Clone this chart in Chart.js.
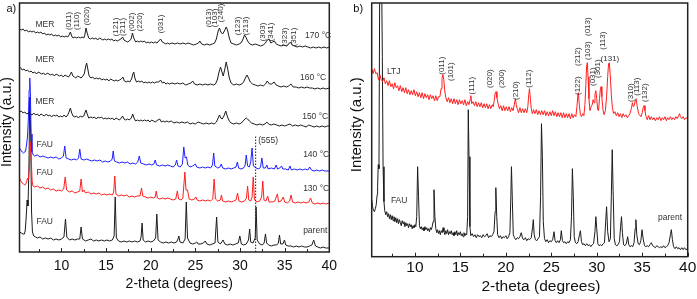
<!DOCTYPE html>
<html>
<head>
<meta charset="utf-8">
<script src="https://cdn.jsdelivr.net/npm/chart.js@4.4.1/dist/chart.umd.min.js"></script>
<style>
  html, body { margin: 0; padding: 0; background: #fff; overflow: hidden; }
  #wrapA { position: absolute; left: 0; top: 0; width: 345px; height: 299px; }
  #wrapB { position: absolute; left: 350px; top: 0; width: 347px; height: 299px; }
</style>
</head>
<body>
<div id="wrapA"><canvas id="chartA"></canvas></div>
<div id="wrapB"><canvas id="chartB"></canvas></div>
<script>
// x axis ticks (2-theta, degrees)
const tickLabels = [10, 15, 20, 25, 30, 35, 40];
const minorTicks = [7.5, 12.5, 17.5, 22.5, 27.5, 32.5, 37.5];

// ---- panel a) patterns, [2-theta, intensity (a.u., stacked)] ----
const parentA = [[5.3,20],[5.5,19],[5.7,18],[5.85,18],[5.95,22],[6.05,35],[6.15,52],[6.25,46],[6.35,80],[6.45,155],[6.55,118],[6.65,40],[6.75,20],[6.9,16],[7.1,15],[7.3,14],[7.6,15],[7.9,13],[8.2,14],[8.5,13],[8.8,14],[9.1,12],[9.4,13],[9.7,12],[10.0,13],[10.28,15],[10.45,33],[10.6,15],[10.9,12],[11.2,13],[11.5,12],[11.8,13],[12.05,13],[12.2,25],[12.35,13],[12.7,11],[13.0,12],[13.3,13],[13.6,11],[13.9,12],[14.2,11],[14.5,12],[14.8,11],[15.1,12],[15.4,11],[15.7,12],[15.9,16],[16.02,55],[16.15,14],[16.4,11],[16.7,10],[17.0,11],[17.3,10],[17.6,11],[17.9,10],[18.2,11],[18.5,10],[18.8,11],[18.92,15],[19.03,29],[19.15,12],[19.4,10],[19.7,11],[20.0,10],[20.3,11],[20.55,14],[20.68,38],[20.82,12],[21.1,10],[21.4,9],[21.7,10],[22.0,9],[22.3,10],[22.6,9],[22.9,10],[23.05,13],[23.15,16],[23.28,10],[23.6,9],[23.85,13],[23.98,50],[24.12,14],[24.4,9],[24.7,8],[25.0,9],[25.15,10],[25.3,8],[25.6,8],[25.9,9],[26.1,11],[26.3,8],[26.6,7],[26.9,8],[27.2,9],[27.38,35],[27.52,10],[27.8,8],[28.1,12],[28.3,8],[28.6,7],[28.9,8],[29.2,7],[29.5,8],[29.8,9],[29.98,16],[30.15,8],[30.4,7],[30.7,8],[30.95,12],[31.08,23],[31.2,10],[31.45,9],[31.7,14],[31.8,45],[31.92,12],[32.2,8],[32.5,7],[32.7,9],[32.85,18],[32.98,9],[33.2,7],[33.5,6],[33.8,7],[34.1,7],[34.3,9],[34.42,17],[34.55,8],[34.8,8],[34.98,12],[35.12,7],[35.4,6],[35.7,6],[36.0,5],[36.3,6],[36.6,5],[36.9,6],[37.2,5],[37.5,5],[37.8,6],[38.05,7],[38.25,12],[38.45,6],[38.7,5],[39.0,4],[39.3,5],[39.6,4],[40.0,4]];

const fau130 = [[5.3,74],[5.45,71],[5.6,69],[5.75,68],[5.9,67],[6.0,68],[6.1,70],[6.2,74],[6.3,72],[6.4,85],[6.52,110],[6.62,92],[6.72,70],[6.82,66],[7.0,65],[7.3,66],[7.6,64],[7.9,65],[8.2,63],[8.5,64],[8.8,62],[9.1,63],[9.4,61],[9.7,62],[10.0,61],[10.25,63],[10.42,75],[10.58,62],[10.9,60],[11.2,61],[11.5,59],[11.8,60],[12.05,61],[12.2,73],[12.35,60],[12.5,62],[12.7,59],[13.0,60],[13.3,58],[13.6,59],[13.9,58],[14.2,59],[14.5,57],[14.8,58],[15.1,57],[15.4,58],[15.7,57],[15.85,60],[15.97,76],[16.1,58],[16.4,56],[16.7,57],[17.0,56],[17.3,57],[17.6,55],[17.9,56],[18.2,55],[18.5,56],[18.8,56],[18.97,64],[19.1,56],[19.4,55],[19.7,54],[20.0,55],[20.3,54],[20.5,55],[20.62,61],[20.75,54],[21.0,53],[21.3,54],[21.6,53],[21.9,54],[22.2,53],[22.5,52],[22.8,53],[22.98,61],[23.12,53],[23.4,52],[23.6,54],[23.82,80],[23.95,62],[24.12,62],[24.3,53],[24.6,52],[24.9,53],[25.05,55],[25.2,52],[25.5,51],[25.8,52],[26.1,51],[26.4,52],[26.7,51],[26.95,53],[27.1,73],[27.25,53],[27.5,51],[27.8,52],[27.92,57],[28.05,51],[28.4,50],[28.7,51],[29.0,50],[29.3,51],[29.55,52],[29.72,59],[29.88,51],[30.2,50],[30.5,51],[30.72,54],[30.85,66],[30.98,52],[31.2,51],[31.35,55],[31.48,75],[31.62,52],[31.9,50],[32.2,51],[32.42,55],[32.55,71],[32.68,52],[32.9,51],[33.1,56],[33.25,50],[33.6,50],[33.9,51],[34.18,58],[34.32,50],[34.6,51],[34.85,55],[35.0,50],[35.3,49],[35.55,51],[35.72,57],[35.88,50],[36.2,49],[36.5,50],[36.8,49],[37.1,50],[37.4,49],[37.7,50],[37.9,54],[38.1,49],[38.4,48],[38.7,49],[39.0,48],[39.3,49],[39.6,48],[40.0,49]];

const fau140 = [[5.3,104],[5.45,102],[5.6,100],[5.75,99],[5.9,100],[6.0,102],[6.1,108],[6.2,116],[6.3,135],[6.38,162],[6.45,174],[6.52,158],[6.6,118],[6.7,100],[6.85,97],[7.0,96],[7.3,97],[7.6,95],[7.9,96],[8.2,95],[8.5,94],[8.8,95],[9.1,94],[9.4,95],[9.7,93],[10.0,94],[10.22,96],[10.37,106],[10.52,94],[10.8,93],[11.1,92],[11.4,93],[11.7,92],[11.92,94],[12.05,103],[12.2,93],[12.5,92],[12.8,93],[13.1,92],[13.4,91],[13.7,92],[14.0,91],[14.3,92],[14.6,90],[14.9,91],[15.2,90],[15.5,91],[15.68,93],[15.8,101],[15.93,91],[16.2,90],[16.5,89],[16.8,90],[17.1,89],[17.4,90],[17.7,88],[18.0,89],[18.3,88],[18.55,90],[18.72,96],[18.88,89],[19.2,88],[19.5,87],[19.8,88],[20.1,87],[20.35,88],[20.5,92],[20.65,87],[21.0,86],[21.3,87],[21.6,86],[21.9,87],[22.2,86],[22.5,85],[22.75,87],[22.9,92],[23.05,86],[23.3,85],[23.55,88],[23.7,105],[23.85,94],[24.0,95],[24.15,87],[24.4,85],[24.7,86],[25.0,88],[25.15,85],[25.5,84],[25.8,85],[26.1,84],[26.4,85],[26.7,84],[26.92,87],[27.05,99],[27.18,86],[27.5,84],[27.75,85],[27.9,88],[28.05,84],[28.4,83],[28.7,84],[29.0,83],[29.3,84],[29.55,85],[29.7,90],[29.85,84],[30.1,83],[30.4,84],[30.58,87],[30.7,97],[30.85,86],[31.05,85],[31.2,90],[31.35,104],[31.5,86],[31.8,84],[32.1,83],[32.3,85],[32.45,94],[32.6,84],[32.85,84],[33.0,87],[33.15,83],[33.5,84],[33.85,83],[34.05,87],[34.2,83],[34.45,84],[34.65,86],[34.8,83],[35.1,83],[35.4,82],[35.6,86],[35.75,82],[36.1,83],[36.4,82],[36.7,83],[37.0,82],[37.3,83],[37.6,82],[37.8,85],[38.0,82],[38.3,81],[38.6,82],[38.9,81],[39.2,82],[39.5,81],[40.0,81]];

const mer150 = [[5.3,140],[5.5,141],[5.7,139],[5.9,140],[6.1,138],[6.3,139],[6.5,138],[6.7,137],[6.9,139],[7.1,137],[7.3,138],[7.5,136],[7.7,138],[7.9,137],[8.1,136],[8.3,138],[8.5,136],[8.7,137],[8.9,135],[9.1,137],[9.3,136],[9.5,137],[9.7,135],[9.9,136],[10.1,135],[10.3,137],[10.5,135],[10.7,137],[10.85,140],[11.0,144],[11.15,139],[11.3,136],[11.5,135],[11.7,136],[11.9,134],[12.1,136],[12.3,135],[12.5,136],[12.62,139],[12.75,142],[12.88,138],[13.05,134],[13.3,135],[13.5,134],[13.7,135],[13.9,133],[14.1,135],[14.3,134],[14.5,135],[14.7,133],[14.9,134],[15.1,133],[15.3,134],[15.5,133],[15.7,134],[15.9,132],[16.1,134],[16.3,133],[16.5,132],[16.7,134],[16.85,136],[17.0,133],[17.2,132],[17.4,133],[17.6,132],[17.82,134],[17.98,138],[18.12,134],[18.3,131],[18.5,132],[18.7,131],[18.9,132],[19.1,131],[19.3,132],[19.5,131],[19.7,132],[19.9,130],[20.1,132],[20.3,131],[20.5,130],[20.8,132],[21.0,133],[21.2,130],[21.4,131],[21.6,130],[21.8,131],[22.0,130],[22.3,131],[22.6,129],[22.9,130],[23.2,129],[23.5,130],[23.8,129],[24.1,130],[24.4,128],[24.7,129],[25.0,128],[25.3,130],[25.6,129],[25.9,128],[26.2,129],[26.5,128],[26.8,129],[27.1,128],[27.35,130],[27.55,134],[27.7,137],[27.85,134],[28.0,133],[28.2,136],[28.4,141],[28.6,135],[28.8,131],[29.0,129],[29.3,128],[29.6,129],[29.9,128],[30.15,129],[30.35,131],[30.55,133],[30.7,134],[30.85,133],[31.05,131],[31.3,129],[31.6,128],[31.9,127],[32.2,128],[32.5,127],[32.8,128],[33.0,130],[33.2,128],[33.5,127],[33.8,128],[34.1,127],[34.4,126],[34.7,127],[35.0,126],[35.3,127],[35.6,128],[35.9,126],[36.2,127],[36.5,126],[36.8,127],[37.1,126],[37.4,125],[37.7,127],[38.0,126],[38.3,125],[38.6,126],[38.9,125],[39.2,126],[39.5,125],[39.8,126],[40.0,126]];

const mer160 = [[5.3,185],[5.45,184],[5.6,182],[5.8,183],[6.0,181],[6.2,182],[6.4,180],[6.6,181],[6.8,179],[7.0,180],[7.2,178],[7.4,180],[7.6,179],[7.8,178],[8.0,179],[8.2,177],[8.4,179],[8.6,178],[8.8,177],[9.0,178],[9.2,176],[9.4,178],[9.6,177],[9.8,176],[10.0,177],[10.2,175],[10.4,177],[10.6,176],[10.8,175],[10.95,177],[11.12,180],[11.28,176],[11.45,175],[11.6,174],[11.8,176],[12.0,175],[12.2,174],[12.4,176],[12.55,178],[12.7,185],[12.82,189],[12.95,183],[13.1,176],[13.3,174],[13.5,175],[13.7,173],[13.9,174],[14.1,173],[14.3,174],[14.5,172],[14.7,173],[14.9,172],[15.1,173],[15.3,171],[15.5,173],[15.7,172],[15.9,171],[16.1,172],[16.3,171],[16.5,172],[16.7,173],[16.88,175],[17.05,171],[17.25,170],[17.45,171],[17.65,170],[17.85,173],[18.0,178],[18.1,180],[18.22,174],[18.4,170],[18.6,171],[18.8,170],[19.0,171],[19.2,169],[19.4,170],[19.6,169],[19.8,170],[20.0,169],[20.2,170],[20.4,169],[20.6,170],[20.9,170],[21.1,172],[21.3,169],[21.5,170],[21.7,168],[21.9,169],[22.1,168],[22.4,169],[22.7,168],[23.0,169],[23.3,168],[23.6,169],[23.9,167],[24.2,168],[24.5,169],[24.7,171],[24.9,168],[25.2,167],[25.5,168],[25.8,167],[26.1,168],[26.4,167],[26.7,168],[27.0,167],[27.25,168],[27.45,172],[27.65,180],[27.82,185],[27.98,180],[28.12,176],[28.3,183],[28.45,190],[28.6,184],[28.8,174],[29.0,169],[29.3,167],[29.6,168],[29.9,167],[30.2,168],[30.4,170],[30.6,174],[30.78,177],[30.95,174],[31.15,170],[31.4,168],[31.7,167],[32.0,166],[32.3,167],[32.6,166],[32.85,168],[33.05,171],[33.3,168],[33.55,168],[33.82,170],[34.05,167],[34.3,166],[34.6,165],[34.9,166],[35.2,165],[35.45,166],[35.7,168],[35.95,165],[36.3,165],[36.6,164],[36.9,165],[37.2,164],[37.5,165],[37.8,164],[38.1,164],[38.4,163],[38.7,164],[39.0,163],[39.3,164],[39.6,163],[40.0,164]];

const mer170 = [[5.3,223],[5.5,222],[5.7,223],[5.9,221],[6.1,222],[6.3,220],[6.5,221],[6.7,220],[6.9,221],[7.1,219],[7.3,220],[7.5,219],[7.7,220],[7.9,218],[8.1,219],[8.3,217],[8.5,218],[8.7,217],[8.9,218],[9.1,216],[9.3,217],[9.5,216],[9.7,217],[9.9,215],[10.1,216],[10.3,215],[10.5,216],[10.7,215],[10.85,217],[11.0,220],[11.15,216],[11.3,214],[11.5,215],[11.7,214],[11.9,215],[12.1,214],[12.3,215],[12.5,214],[12.62,217],[12.75,224],[12.88,219],[13.05,214],[13.25,213],[13.45,214],[13.65,213],[13.85,214],[14.05,212],[14.25,214],[14.45,213],[14.65,212],[14.85,213],[15.05,212],[15.25,213],[15.45,212],[15.65,213],[15.85,211],[16.05,212],[16.25,211],[16.45,212],[16.65,213],[16.85,215],[17.0,212],[17.2,211],[17.4,210],[17.6,211],[17.8,213],[17.95,219],[18.1,214],[18.3,210],[18.5,211],[18.7,210],[18.9,211],[19.1,210],[19.3,211],[19.5,209],[19.7,210],[19.9,209],[20.1,210],[20.3,209],[20.5,210],[20.7,209],[20.9,211],[21.1,213],[21.3,210],[21.5,209],[21.7,208],[21.9,209],[22.1,208],[22.4,209],[22.7,208],[23.0,209],[23.3,208],[23.6,209],[23.9,208],[24.2,209],[24.5,208],[24.8,207],[25.1,208],[25.35,209],[25.5,211],[25.7,208],[26.0,207],[26.3,208],[26.6,207],[26.9,208],[27.15,209],[27.35,213],[27.55,221],[27.7,224],[27.85,220],[28.05,218],[28.25,221],[28.45,225],[28.6,222],[28.8,214],[29.0,209],[29.3,208],[29.6,207],[29.9,208],[30.1,209],[30.3,212],[30.5,217],[30.65,215],[30.85,211],[31.1,208],[31.4,207],[31.7,208],[32.0,207],[32.3,206],[32.6,207],[32.85,209],[33.05,212],[33.25,213],[33.45,209],[33.65,210],[33.85,211],[34.05,208],[34.3,207],[34.6,206],[34.9,207],[35.2,206],[35.45,208],[35.65,210],[35.85,207],[36.1,206],[36.4,205],[36.7,206],[37.0,205],[37.3,206],[37.6,205],[37.9,204],[38.2,205],[38.5,204],[38.8,205],[39.1,204],[39.4,205],[39.7,204],[40.0,205]];

// (555) reflection marker
const line555 = [[31.75, 0], [31.75, 117]];

// ---- panel b) patterns ----
const parentB = [[5.25,57],[5.35,50],[5.45,46],[5.55,45],[5.65,48],[5.75,52],[5.85,62],[5.9,70],[5.97,92],[6.05,88],[6.15,320],[6.3,320],[6.42,200],[6.5,90],[6.6,55],[6.68,46],[6.8,42],[6.9,45],[7.0,40],[7.1,43],[7.2,38],[7.3,42],[7.4,37],[7.5,41],[7.6,36],[7.7,40],[7.8,35],[7.9,39],[8.0,34],[8.1,38],[8.2,33],[8.3,37],[8.4,34],[8.5,31],[8.6,36],[8.7,33],[8.8,35],[8.9,30],[9.0,34],[9.1,31],[9.2,33],[9.3,29],[9.4,33],[9.5,30],[9.6,32],[9.7,28],[9.8,31],[9.9,29],[10.0,32],[10.1,30],[10.2,40],[10.3,90],[10.4,60],[10.5,31],[10.6,28],[10.7,30],[10.8,27],[10.9,29],[11.0,26],[11.1,30],[11.2,27],[11.3,29],[11.4,26],[11.5,28],[11.6,25],[11.7,29],[11.8,27],[11.9,30],[12.0,35],[12.1,67],[12.2,40],[12.3,28],[12.4,24],[12.5,27],[12.6,23],[12.7,26],[12.8,22],[12.9,26],[13.0,24],[13.1,29],[13.2,25],[13.3,22],[13.4,26],[13.5,23],[13.6,27],[13.7,22],[13.8,25],[13.9,23],[14.0,26],[14.1,22],[14.2,24],[14.3,21],[14.4,25],[14.5,22],[14.6,26],[14.7,21],[14.8,24],[14.9,22],[15.0,25],[15.1,21],[15.2,23],[15.3,20],[15.4,24],[15.5,21],[15.6,23],[15.7,22],[15.8,40],[15.87,147],[15.95,100],[16.05,30],[16.15,21],[16.3,23],[16.45,20],[16.6,22],[16.75,19],[16.9,22],[17.05,20],[17.2,21],[17.35,19],[17.5,22],[17.65,20],[17.8,21],[17.95,23],[18.1,19],[18.25,21],[18.4,20],[18.55,22],[18.7,25],[18.82,45],[18.9,69],[19.0,40],[19.1,22],[19.25,19],[19.4,21],[19.55,18],[19.7,20],[19.85,19],[20.0,21],[20.15,18],[20.3,20],[20.45,24],[20.55,60],[20.62,90],[20.72,55],[20.82,22],[20.95,19],[21.1,17],[21.25,19],[21.4,18],[21.55,20],[21.7,24],[21.85,18],[22.0,17],[22.15,19],[22.3,16],[22.45,18],[22.6,17],[22.8,19],[22.95,30],[23.02,37],[23.12,22],[23.25,17],[23.4,16],[23.55,18],[23.7,20],[23.82,60],[23.92,133],[24.02,100],[24.12,35],[24.25,18],[24.4,15],[24.55,17],[24.7,14],[24.85,16],[25.0,15],[25.15,17],[25.3,25],[25.42,16],[25.55,14],[25.7,16],[25.85,14],[26.0,17],[26.1,26],[26.22,16],[26.35,14],[26.5,15],[26.65,13],[26.8,15],[26.95,14],[27.1,17],[27.22,40],[27.32,88],[27.42,60],[27.52,20],[27.65,14],[27.8,13],[27.95,15],[28.1,22],[28.2,26],[28.32,15],[28.45,12],[28.6,13],[28.75,11],[28.9,13],[29.05,11],[29.2,12],[29.35,10],[29.5,12],[29.65,13],[29.8,25],[29.9,40],[30.0,28],[30.12,13],[30.25,11],[30.4,12],[30.55,11],[30.7,13],[30.85,14],[30.98,35],[31.08,50],[31.2,25],[31.35,15],[31.5,18],[31.6,60],[31.7,107],[31.8,65],[31.92,18],[32.05,12],[32.2,11],[32.35,12],[32.5,15],[32.62,30],[32.72,40],[32.82,24],[32.95,12],[33.1,11],[33.25,13],[33.4,20],[33.52,12],[33.65,10],[33.8,11],[33.95,10],[34.1,14],[34.22,28],[34.3,37],[34.4,22],[34.55,13],[34.7,12],[34.85,16],[34.98,27],[35.1,18],[35.25,11],[35.4,10],[35.55,11],[35.7,10],[35.85,12],[36.0,14],[36.15,11],[36.3,10],[36.45,9],[36.6,11],[36.75,10],[36.9,9],[37.05,10],[37.2,9],[37.35,11],[37.5,9],[37.65,10],[37.8,11],[37.95,14],[38.1,22],[38.2,27],[38.32,17],[38.45,10],[38.6,8],[38.75,10],[38.9,8],[39.05,9],[39.2,7],[39.35,9],[39.5,7],[39.65,9],[39.8,7],[40.0,8]];

const ltj = [[5.25,188],[5.4,183],[5.55,188],[5.7,183],[5.85,184],[6.0,177],[6.15,182],[6.3,177],[6.45,175],[6.6,179],[6.75,173],[6.9,176],[7.05,171],[7.2,176],[7.35,170],[7.5,173],[7.65,168],[7.8,174],[7.95,169],[8.1,171],[8.25,166],[8.4,171],[8.55,165],[8.7,169],[8.85,164],[9.0,169],[9.15,163],[9.3,167],[9.45,162],[9.6,166],[9.75,162],[9.9,167],[10.05,161],[10.2,165],[10.35,160],[10.5,164],[10.65,159],[10.8,164],[10.95,158],[11.1,163],[11.25,159],[11.4,162],[11.55,157],[11.7,162],[11.85,158],[12.0,161],[12.15,156],[12.3,161],[12.45,156],[12.6,160],[12.75,160],[12.88,168],[12.98,178],[13.08,182],[13.18,177],[13.28,166],[13.4,159],[13.55,155],[13.7,159],[13.85,154],[14.0,158],[14.15,153],[14.3,158],[14.45,153],[14.6,157],[14.75,152],[14.9,157],[15.05,153],[15.2,156],[15.35,152],[15.5,157],[15.65,151],[15.8,155],[15.95,152],[16.07,157],[16.15,161],[16.25,153],[16.4,155],[16.55,151],[16.7,155],[16.85,150],[17.0,154],[17.15,150],[17.3,154],[17.45,149],[17.6,153],[17.75,149],[17.9,153],[18.05,148],[18.2,152],[18.35,148],[18.5,152],[18.62,150],[18.72,156],[18.82,163],[18.92,165],[19.02,159],[19.15,153],[19.3,148],[19.45,151],[19.6,146],[19.75,151],[19.9,146],[20.05,150],[20.2,146],[20.35,150],[20.5,145],[20.65,149],[20.8,146],[20.93,152],[21.05,158],[21.15,152],[21.28,147],[21.4,144],[21.55,149],[21.7,144],[21.85,148],[22.0,144],[22.15,148],[22.3,144],[22.42,150],[22.52,162],[22.6,168],[22.7,158],[22.8,148],[22.92,143],[23.05,147],[23.2,143],[23.35,147],[23.5,142],[23.65,146],[23.8,142],[23.95,146],[24.1,142],[24.25,146],[24.4,141],[24.55,145],[24.7,141],[24.85,145],[25.0,141],[25.15,146],[25.3,141],[25.45,145],[25.6,140],[25.75,144],[25.9,140],[26.05,144],[26.2,139],[26.35,144],[26.5,139],[26.65,143],[26.8,139],[26.95,143],[27.1,138],[27.25,143],[27.4,139],[27.55,142],[27.7,140],[27.82,150],[27.92,162],[27.98,164],[28.08,152],[28.2,142],[28.32,140],[28.45,143],[28.58,141],[28.7,152],[28.8,172],[28.88,190],[28.96,194],[29.04,180],[29.14,158],[29.25,146],[29.38,150],[29.5,152],[29.6,157],[29.7,154],[29.8,162],[29.9,166],[30.0,158],[30.1,147],[30.2,146],[30.3,158],[30.4,168],[30.47,170],[30.56,160],[30.68,147],[30.8,142],[30.95,146],[31.08,160],[31.2,180],[31.3,193],[31.38,194],[31.48,182],[31.6,162],[31.72,149],[31.85,143],[32.0,145],[32.15,141],[32.3,144],[32.45,140],[32.6,143],[32.75,139],[32.9,143],[33.05,140],[33.2,142],[33.35,139],[33.5,141],[33.65,143],[33.8,148],[33.92,154],[34.02,150],[34.12,151],[34.25,157],[34.33,158],[34.45,150],[34.6,143],[34.75,141],[34.88,140],[35.0,144],[35.1,149],[35.2,151],[35.3,146],[35.42,140],[35.55,137],[35.7,141],[35.85,137],[36.0,140],[36.15,137],[36.3,139],[36.45,136],[36.6,139],[36.75,137],[36.9,140],[37.05,136],[37.2,139],[37.35,137],[37.5,140],[37.65,136],[37.8,139],[37.95,137],[38.1,140],[38.25,137],[38.4,139],[38.55,137],[38.7,140],[38.85,138],[39.0,141],[39.1,143],[39.2,140],[39.35,138],[39.5,140],[39.65,137],[39.8,139],[40.0,138]];

// reflection indices: [text, 2-theta, height]
const hklA = [['(011)',10.82,231],['(110)',11.75,231],['(020)',12.87,236],['(121)',16.04,225],['(211)',16.9,225],['(002)',17.9,230],['(220)',18.76,230],['(031)',21.15,228],['(013)',26.48,234],['(103)',27.15,234],['(240)',27.8,239],['(123)',29.8,226],['(213)',30.7,226],['(303)',32.6,220],['(341)',33.4,220],['(323)',35.06,215],['(351)',36.0,215]];
const hklB = [['(011)',12.97,191],['(101)',13.96,185],['(111)',16.27,171],['(020)',18.25,178],['(200)',19.57,178],['(210)',21.1,166],['(112)',22.54,178],['(122)',27.93,171],['(212)',27.93,200],['(103)',29.03,206],['(013)',29.03,230],['(031)',29.58,180],['(301)',30.13,188],['(113)',30.68,216],['(310)',33.76,164],['(113)',34.42,170],['(132)',35.3,164]];
const hklFlatB = [['(131)',31.45,198]];

// trace names: [text, 2-theta, height]
const notesA = [['MER',7.09,227],['MER',7.09,192],['MER',7.09,150],['FAU',7.2,107],['FAU',7.2,79],['FAU',7.2,30],['170 \u00B0C',37.29,216],['160 \u00B0C',36.73,174],['150 \u00B0C',36.96,135],['140 \u00B0C',37.07,97],['130 \u00B0C',37.07,63],['parent',37.07,21],['(555)',32.04,111]];
const notesB = [['LTJ',6.92,185],['FAU',7.36,56],['parent',36.73,39]];

const FONT = '"Liberation Sans", Arial, sans-serif';
const toXY = arr => arr.map(p => ({ x: p[0], y: p[1] }));

// Draws box frame, inward x ticks, axis text and labels
const framePlugin = {
    id: 'frame',
    afterDraw(chart, args, o) {
        const { ctx, chartArea: a, scales: { x, y } } = chart;
        ctx.save();
        ctx.strokeStyle = '#222';
        ctx.lineWidth = 1.5;
        ctx.strokeRect(a.left, a.top, a.right - a.left, a.bottom - a.top);

        // inward ticks
        ctx.lineWidth = 1;
        ctx.beginPath();
        tickLabels.forEach(v => {
            const px = Math.round(x.getPixelForValue(v)) + 0.5;
            ctx.moveTo(px, a.bottom); ctx.lineTo(px, a.bottom - 4);
        });
        minorTicks.forEach(v => {
            const px = Math.round(x.getPixelForValue(v)) + 0.5;
            ctx.moveTo(px, a.bottom); ctx.lineTo(px, a.bottom - 3);
        });
        ctx.stroke();

        // tick labels and axis titles
        ctx.fillStyle = '#111';
        ctx.textBaseline = 'middle';
        ctx.textAlign = 'center';
        ctx.font = o.tickSize + 'px ' + FONT;
        tickLabels.forEach(v => ctx.fillText(String(v), x.getPixelForValue(v), a.bottom + o.tickOff));
        ctx.font = o.titleSize + 'px ' + FONT;
        ctx.fillText('2-theta (degrees)', x.getPixelForValue(o.titleAt), a.bottom + o.titleOff);
        ctx.save();
        ctx.translate(a.left - o.yTitleOff, y.getPixelForValue(o.yTitleAt));
        ctx.rotate(-Math.PI / 2);
        ctx.font = o.yTitleSize + 'px ' + FONT;
        ctx.fillText('Intensity (a.u.)', 0, 0);
        ctx.restore();

        // panel tag
        ctx.textAlign = 'left';
        ctx.font = '11px ' + FONT;
        ctx.fillText(o.tag, a.left - o.tagOff, a.top + 6);

        // trace names
        ctx.fillStyle = '#333';
        ctx.font = '8.5px ' + FONT;
        o.notes.forEach(n => ctx.fillText(n[0], x.getPixelForValue(n[1]), y.getPixelForValue(n[2])));

        // rotated reflection indices
        ctx.font = '8px ' + FONT;
        ctx.textAlign = 'center';
        o.hkl.forEach(h => {
            ctx.save();
            ctx.translate(x.getPixelForValue(h[1]), y.getPixelForValue(h[2]));
            ctx.rotate(-Math.PI / 2);
            ctx.fillText(h[0], 0, 0);
            ctx.restore();
        });
        (o.hklFlat || []).forEach(h => ctx.fillText(h[0], x.getPixelForValue(h[1]), y.getPixelForValue(h[2])));
        ctx.restore();
    }
};

function trace(data, color, extra) {
    return Object.assign({
        data: toXY(data),
        borderColor: color,
        borderWidth: 1,
        pointRadius: 0,
        tension: 0,
        fill: false
    }, extra || {});
}

function makeOptions(c) {
    return {
        responsive: true,
        maintainAspectRatio: false,
        animation: false,
        devicePixelRatio: 1,
        layout: { padding: c.pad },
        plugins: {
            legend: { display: false },
            tooltip: { enabled: false },
            frame: c.frame
        },
        scales: {
            x: { type: 'linear', display: false, min: c.xmin, max: 40 },
            y: { display: false, min: 0, max: c.ymax }
        }
    };
}

new Chart(document.getElementById('chartA'), {
    type: 'line',
    data: {
        datasets: [
            trace(line555, '#222', { borderDash: [1.5, 1.5] }),
            trace(mer170, '#1c1c1c'),
            trace(mer160, '#1c1c1c'),
            trace(mer150, '#1c1c1c'),
            trace(fau140, '#1f1fff'),
            trace(fau130, '#ff1f1f'),
            trace(parentA, '#1c1c1c')
        ]
    },
    options: makeOptions({
        xmin: 5.3, ymax: 249,
        pad: { left: 19.5, top: 3, right: 15.7, bottom: 47 },
        frame: { tag: 'a)', tagOff: 13, notes: notesA, hkl: hklA,
                 tickSize: 14, tickOff: 14, titleSize: 14, titleOff: 32, titleAt: 23.2,
                 yTitleSize: 14.2, yTitleOff: 12, yTitleAt: 130 }
    }),
    plugins: [framePlugin]
});

new Chart(document.getElementById('chartB'), {
    type: 'line',
    data: {
        datasets: [
            trace(ltj, '#ff1f1f'),
            trace(parentB, '#1c1c1c')
        ]
    },
    options: makeOptions({
        xmin: 5.25, ymax: 253.7,
        pad: { left: 21.7, top: 3, right: 9.3, bottom: 42.3 },
        frame: { tag: 'b)', tagOff: 18.4, notes: notesB, hkl: hklB, hklFlat: hklFlatB,
                 tickSize: 15.5, tickOff: 11.5, titleSize: 15.5, titleOff: 30.3, titleAt: 23.86,
                 yTitleSize: 15, yTitleOff: 14.7, yTitleAt: 132 }
    }),
    plugins: [framePlugin]
});
</script>
</body>
</html>
